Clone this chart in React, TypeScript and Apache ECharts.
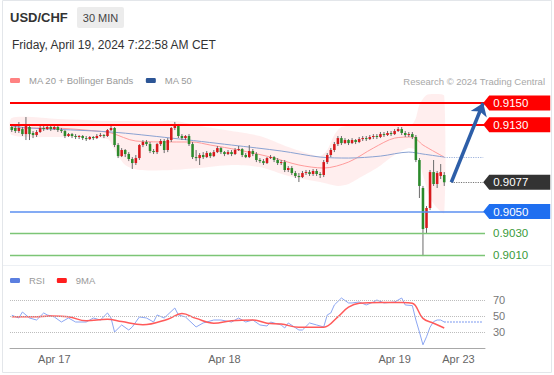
import React, { useEffect, useRef } from 'react';
import * as echarts from 'echarts';

const FONT = '"Liberation Sans", Arial, Helvetica, sans-serif';

// ---- time slots (30 min), category axis ----
const SLOT_COUNT = 134;
const slots: string[] = Array.from({ length: SLOT_COUNT }, (_, i) => String(i));
const dateLabelIndex = [12, 60, 108, 126];
const dateLabelText = ['Apr 17', 'Apr 18', 'Apr 19', 'Apr 23'];

// ---- candles: [open, close, low, high] ----
const candles: number[][] = [
  [0.91279, 0.91251, 0.91233, 0.91297],
  [0.9127, 0.91242, 0.91224, 0.91288],
  [0.91242, 0.9127, 0.91224, 0.91325],
  [0.9126, 0.91214, 0.91196, 0.91279],
  [0.91214, 0.91297, 0.91159, 0.91371],
  [0.91279, 0.91214, 0.91159, 0.91307],
  [0.91224, 0.91205, 0.91177, 0.91242],
  [0.91205, 0.91233, 0.91187, 0.91251],
  [0.91233, 0.9127, 0.91224, 0.91288],
  [0.9127, 0.9126, 0.91242, 0.91288],
  [0.9126, 0.91279, 0.91251, 0.91297],
  [0.91279, 0.9126, 0.91242, 0.91297],
  [0.9126, 0.91279, 0.91251, 0.91297],
  [0.91279, 0.91251, 0.91233, 0.91288],
  [0.91251, 0.91242, 0.91224, 0.9127],
  [0.91242, 0.91196, 0.91177, 0.91251],
  [0.91196, 0.91214, 0.91187, 0.91224],
  [0.91214, 0.91196, 0.91177, 0.91224],
  [0.91196, 0.91187, 0.91168, 0.91214],
  [0.91187, 0.91196, 0.91168, 0.91205],
  [0.91196, 0.91177, 0.91159, 0.91205],
  [0.91177, 0.91168, 0.9115, 0.91196],
  [0.91168, 0.91187, 0.91159, 0.91196],
  [0.91187, 0.91177, 0.91159, 0.91196],
  [0.91177, 0.91196, 0.91168, 0.91214],
  [0.91196, 0.91205, 0.91187, 0.91224],
  [0.91205, 0.91196, 0.91177, 0.91214],
  [0.91196, 0.91251, 0.91187, 0.9126],
  [0.91251, 0.9127, 0.91242, 0.91307],
  [0.9127, 0.91113, 0.91094, 0.91279],
  [0.91113, 0.91011, 0.90993, 0.91131],
  [0.91011, 0.91067, 0.91002, 0.91085],
  [0.91067, 0.9103, 0.91002, 0.91076],
  [0.9103, 0.90984, 0.90965, 0.91048],
  [0.90984, 0.90947, 0.90892, 0.91002],
  [0.90947, 0.90993, 0.90929, 0.91021],
  [0.90993, 0.91113, 0.90975, 0.91122],
  [0.91113, 0.91141, 0.91094, 0.91159],
  [0.91141, 0.91122, 0.91104, 0.91159],
  [0.91122, 0.91058, 0.91039, 0.91141],
  [0.91058, 0.91048, 0.9103, 0.91076],
  [0.91048, 0.91122, 0.9103, 0.91131],
  [0.91122, 0.9115, 0.91104, 0.91168],
  [0.9115, 0.91067, 0.91039, 0.91168],
  [0.91067, 0.91159, 0.91048, 0.91177],
  [0.91159, 0.9127, 0.91141, 0.91279],
  [0.9127, 0.91297, 0.91251, 0.91325],
  [0.91288, 0.91196, 0.91177, 0.91307],
  [0.91196, 0.91177, 0.91159, 0.91214],
  [0.91177, 0.91196, 0.91159, 0.91205],
  [0.91196, 0.91122, 0.91104, 0.91214],
  [0.91122, 0.91002, 0.90984, 0.91141],
  [0.91002, 0.90993, 0.90965, 0.91067],
  [0.90993, 0.91021, 0.90929, 0.91039],
  [0.91021, 0.91002, 0.90984, 0.91048],
  [0.91002, 0.91039, 0.90993, 0.91058],
  [0.91039, 0.91011, 0.90993, 0.91048],
  [0.91011, 0.91048, 0.91002, 0.91067],
  [0.91048, 0.91085, 0.91039, 0.91104],
  [0.91085, 0.91048, 0.9103, 0.91094],
  [0.91048, 0.9103, 0.91011, 0.91058],
  [0.9103, 0.91048, 0.91021, 0.91067],
  [0.91048, 0.9103, 0.91011, 0.91067],
  [0.9103, 0.91067, 0.91021, 0.91085],
  [0.91067, 0.91076, 0.91058, 0.91104],
  [0.91076, 0.91021, 0.91002, 0.91085],
  [0.91021, 0.91002, 0.90993, 0.91039],
  [0.91002, 0.91058, 0.90993, 0.91113],
  [0.91058, 0.9103, 0.91011, 0.91076],
  [0.9103, 0.90975, 0.90956, 0.91048],
  [0.90975, 0.90965, 0.90947, 0.90993],
  [0.90965, 0.90947, 0.90929, 0.90984],
  [0.90947, 0.90993, 0.90938, 0.91002],
  [0.90993, 0.91002, 0.90984, 0.91021],
  [0.91002, 0.90975, 0.90956, 0.91011],
  [0.90975, 0.90947, 0.90929, 0.90993],
  [0.90947, 0.90956, 0.90929, 0.90975],
  [0.90956, 0.90883, 0.90864, 0.90975],
  [0.90883, 0.90901, 0.90864, 0.90919],
  [0.90901, 0.90855, 0.90837, 0.90919],
  [0.90855, 0.90828, 0.90809, 0.90874],
  [0.90828, 0.90818, 0.90772, 0.90855],
  [0.90818, 0.90855, 0.90809, 0.90874],
  [0.90855, 0.90864, 0.90837, 0.90883],
  [0.90864, 0.90846, 0.90828, 0.90883],
  [0.90846, 0.90874, 0.90828, 0.90892],
  [0.90874, 0.90846, 0.90828, 0.90892],
  [0.90846, 0.90837, 0.90809, 0.90864],
  [0.90837, 0.90956, 0.90818, 0.90975],
  [0.90956, 0.91021, 0.90938, 0.91039],
  [0.91021, 0.91067, 0.91002, 0.91085],
  [0.91067, 0.91122, 0.91048, 0.91141],
  [0.91122, 0.91177, 0.91104, 0.91196],
  [0.91177, 0.91131, 0.91113, 0.91196],
  [0.91131, 0.91159, 0.91122, 0.91177],
  [0.91159, 0.91131, 0.91113, 0.91168],
  [0.91131, 0.91159, 0.91122, 0.91177],
  [0.91159, 0.91141, 0.91122, 0.91168],
  [0.91141, 0.91168, 0.91131, 0.91187],
  [0.91168, 0.91177, 0.9115, 0.91196],
  [0.91177, 0.91168, 0.9115, 0.91196],
  [0.91168, 0.91187, 0.91159, 0.91205],
  [0.91187, 0.91196, 0.91168, 0.91214],
  [0.91196, 0.91187, 0.91168, 0.91214],
  [0.91187, 0.91214, 0.91177, 0.91233],
  [0.91214, 0.91205, 0.91187, 0.91233],
  [0.91205, 0.91224, 0.91196, 0.91242],
  [0.91224, 0.91214, 0.91196, 0.91242],
  [0.91214, 0.91242, 0.91205, 0.9126],
  [0.91242, 0.9126, 0.91233, 0.91279],
  [0.9126, 0.91224, 0.91205, 0.91279],
  [0.91224, 0.91205, 0.91187, 0.91242],
  [0.91205, 0.91214, 0.91187, 0.91233],
  [0.91214, 0.91187, 0.91168, 0.91233],
  [0.91187, 0.90975, 0.90956, 0.91205],
  [0.90975, 0.90736, 0.90625, 0.90993],
  [0.90717, 0.90339, 0.9009, 0.90736],
  [0.90349, 0.90533, 0.90302, 0.90551],
  [0.90533, 0.90864, 0.90514, 0.90883],
  [0.90864, 0.90754, 0.90736, 0.90975],
  [0.90754, 0.90855, 0.90717, 0.90874],
  [0.90828, 0.90864, 0.908, 0.90938],
  [0.90837, 0.9077, 0.90736, 0.90864],
];

// ---- indicators: [slot, value] ----
const bollUpper: number[][] = [
  [0, 0.91362], [13, 0.91353], [27, 0.91334], [32, 0.91334], [40, 0.91325], [46, 0.91334],
  [53, 0.91288], [62, 0.91242], [70, 0.91196], [78, 0.91094], [84, 0.9103], [87, 0.91011],
  [89, 0.91067], [91, 0.91205], [93, 0.91279], [100, 0.91297], [106, 0.91297], [110, 0.91307],
  [113, 0.91307], [114, 0.91362], [115, 0.91482], [117, 0.91574], [120, 0.91583], [122, 0.91565],
];
const bollLower: number[][] = [
  [0, 0.91205], [13, 0.91187], [27, 0.91168], [29, 0.91067], [32, 0.90929], [36, 0.90883],
  [45, 0.90883], [53, 0.90901], [62, 0.90929], [70, 0.9091], [78, 0.90828], [87, 0.90772],
  [92, 0.90736], [95, 0.90754], [98, 0.90809], [103, 0.90901], [108, 0.91021], [112, 0.91085],
  [114, 0.91067], [116, 0.90837], [118, 0.90625], [120, 0.90533], [122, 0.90487],
];
const ma20: number[][] = [
  [0, 0.9127], [11, 0.9127], [24, 0.91242], [28, 0.91224], [35, 0.9115], [45, 0.91141],
  [51, 0.91141], [56, 0.91113], [64, 0.91067], [73, 0.91002], [81, 0.90929], [88, 0.90901],
  [95, 0.90956], [102, 0.91085], [108, 0.91177], [113, 0.91187], [116, 0.91113], [122, 0.91002],
];
const ma50: number[][] = [
  [0, 0.91288], [5, 0.9127], [28, 0.91233], [45, 0.91177], [62, 0.91113], [76, 0.91058],
  [87, 0.91002], [95, 0.90993], [104, 0.91011], [112, 0.91048], [116, 0.9103], [122, 0.91002],
];
const rsi: number[][] = [
  [0, 51], [2, 47.5], [3, 55], [5, 47.5], [7, 45], [9, 53.8], [10, 51.3], [12, 48.8], [14, 42.5],
  [16, 47.5], [18, 42.5], [21, 42.5], [23, 47.5], [25, 45], [27, 53.8], [28, 47.5], [29, 30],
  [31, 38.8], [33, 32.5], [34, 36.3], [36, 48.8], [38, 47.5], [40, 42.5], [41, 51.3], [43, 47.5],
  [46, 60], [47, 51.3], [49, 48.8], [52, 36.3], [54, 41.3], [57, 45], [59, 45], [62, 42.5],
  [64, 47.5], [66, 42.5], [68, 45], [70, 38.8], [72, 37.5], [73, 42.5], [76, 38.8], [77, 35],
  [78, 41.3], [81, 32.5], [82, 32.5], [84, 41.3], [86, 38.8], [88, 36.3], [89, 51.3], [90, 53.8],
  [91, 63.8], [93, 72.5], [95, 66.3], [96, 66.3], [98, 67.5], [100, 63.8], [102, 67.5], [103, 70],
  [105, 66.3], [108, 67.5], [110, 72.5], [111, 63.8], [113, 63], [114, 45], [115, 30], [116, 14],
  [117, 24], [118, 36], [119, 43], [120, 45], [121, 45], [122, 42.5],
];
const rsiMa9: number[][] = [
  [0, 49], [6, 49], [11, 50], [16, 49], [21, 44], [27, 46], [31, 43], [37, 39], [44, 46], [48, 53],
  [52, 47], [57, 41], [62, 44], [68, 45], [72, 41], [76, 40], [81, 36], [85, 36], [88, 36], [92, 49],
  [95, 61], [98, 66], [104, 67], [110, 67], [113, 66], [116, 47], [119, 41], [122, 35],
];
const rsiLevels = [30, 50, 70];

// ---- key levels ----
const resistances = [0.915, 0.913];
const pivots = [0.905];
const supports = [0.903, 0.901];
const lastPrice = 0.9077;
const lastRsi = 42.5;
const projectionFrom = [124, 0.9077];
const projectionTo = [133, 0.915];

const RED = '#d7191c';
const GREEN = '#2b8a2b';
const TAG_PATH = 'path://M0,7.5L6,0L67,0L67,15L6,15Z';

function tag(v: number, color: string) {
  return {
    coord: [SLOT_COUNT - 1, v],
    symbol: TAG_PATH,
    symbolSize: [67, 15],
    symbolOffset: [33.5, 0],
    itemStyle: { color },
    label: {
      show: true,
      position: 'insideLeft',
      distance: 10,
      formatter: v.toFixed(4),
      color: '#fff',
      fontSize: 11.5,
      fontFamily: FONT,
    },
  };
}

function hLine(v: number, color: string, width: number, text?: string, textColor?: string) {
  return {
    yAxis: v,
    lineStyle: { color, width, type: 'solid' },
    label: text
      ? { show: true, position: 'end', distance: 8, formatter: text, color: textColor, fontSize: 11.5, fontFamily: FONT }
      : { show: false },
  };
}

export default function App() {
  const ref = useRef<HTMLDivElement>(null);
  useEffect(() => {
    const chart = echarts.init(ref.current!, null, { renderer: 'svg' });
    const lastSlot = candles.length - 1;
    const option: any = {
      animation: false,
      backgroundColor: '#ffffff',
      textStyle: { fontFamily: FONT },
      grid: [
        { left: 10, width: 475, top: 90, height: 171.5 },
        { left: 10, width: 475, top: 284, height: 64 },
      ],
      xAxis: [
        { type: 'category', gridIndex: 0, data: slots, boundaryGap: true, show: false },
        {
          type: 'category', gridIndex: 1, data: slots, boundaryGap: true,
          axisLine: { show: true, lineStyle: { color: '#a8a8a8', width: 1 } },
          axisTick: { show: false },
          splitLine: { show: false },
          axisLabel: {
            interval: (idx: number) => dateLabelIndex.includes(idx),
            formatter: (_: string, idx: number) => {
              const k = dateLabelIndex.indexOf(idx);
              return k >= 0 ? dateLabelText[k] : '';
            },
            color: '#666', fontSize: 11, margin: 5, fontFamily: FONT,
          },
        },
      ],
      yAxis: [
        { type: 'value', gridIndex: 0, min: 0.9004, max: 0.9162, show: false, splitLine: { show: false } },
        { type: 'value', gridIndex: 1, min: 10, max: 90, show: false, splitLine: { show: false } },
      ],
      legend: [
        {
          left: 10, top: 75.5, padding: 0, itemGap: 12, itemWidth: 10, itemHeight: 5, icon: 'roundRect',
          selectedMode: false,
          textStyle: { color: '#999', fontSize: 9.5, fontFamily: FONT, padding: [0, 0, 0, 4] },
          data: [
            { name: 'MA 20 + Bollinger Bands', itemStyle: { color: '#ff8282', borderWidth: 0 } },
            { name: 'MA 50', itemStyle: { color: '#2c5596', borderWidth: 0 } },
          ],
        },
        {
          left: 10, top: 275.5, padding: 0, itemGap: 12, itemWidth: 10, itemHeight: 5, icon: 'roundRect',
          selectedMode: false,
          textStyle: { color: '#999', fontSize: 9.5, fontFamily: FONT, padding: [0, 0, 0, 4] },
          data: [
            { name: 'RSI', itemStyle: { color: '#5b7fe0', borderWidth: 0 } },
            { name: '9MA', itemStyle: { color: '#ff1f1f', borderWidth: 0 } },
          ],
        },
      ],
      graphic: [
        { type: 'rect', silent: true, z: -10, shape: { x: 2.5, y: 0.5, width: 549, height: 372 }, style: { fill: 'none', stroke: '#e3e6ea', lineWidth: 1 } },
        { type: 'line', silent: true, shape: { x1: 3, y1: 265.5, x2: 551, y2: 265.5 }, style: { stroke: '#edf0f4', lineWidth: 1 } },
        { type: 'text', x: 10, y: 17.5, style: { text: 'USD/CHF', fontSize: 13, fontWeight: 'bold', fontFamily: FONT, fill: '#333', verticalAlign: 'middle' } },
        { type: 'rect', shape: { x: 77, y: 7, width: 47, height: 21, r: 2 }, style: { fill: '#ececec' } },
        { type: 'text', x: 100.5, y: 17.5, style: { text: '30 MIN', fontSize: 11, fontFamily: FONT, fill: '#444', align: 'center', verticalAlign: 'middle' } },
        { type: 'text', x: 12, y: 45, style: { text: 'Friday, April 19, 2024 7:22:58 AM CET', fontSize: 12, fontFamily: FONT, fill: '#333', verticalAlign: 'middle' } },
        { type: 'text', x: 545, y: 81, style: { text: 'Research © 2024 Trading Central', fontSize: 9.5, fontFamily: FONT, fill: '#a8a8a8', align: 'right', verticalAlign: 'middle' } },
      ],
      series: [
        {
          name: 'bands', type: 'custom', xAxisIndex: 0, yAxisIndex: 0, silent: true, z: 1,
          data: [[0, 0.91]],
          encode: { x: 0, y: 1 },
          renderItem: (_params: any, api: any) => {
            const pts = bollUpper.map((p) => api.coord(p)).concat(
              bollLower.slice().reverse().map((p) => api.coord(p))
            );
            return { type: 'polygon', shape: { points: pts, smooth: 0.25 }, style: { fill: 'rgba(255,60,60,0.085)' } };
          },
        },
        {
          name: 'MA 20 + Bollinger Bands', type: 'line', xAxisIndex: 0, yAxisIndex: 0, z: 3,
          data: ma20, symbol: 'none', smooth: 0.3, color: '#ff8a8a',
          lineStyle: { color: '#ff9b9b', width: 1 },
          markLine: {
            silent: true, symbol: ['none', 'none'], animation: false, precision: 5,
            data: [
              ...resistances.map((v) => hLine(v, '#ff0000', 2)),
              ...pivots.map((v) => hLine(v, '#5b8ff0', 1.5)),
              ...supports.map((v) => hLine(v, '#7cc576', 1.3, v.toFixed(4), '#3a9a3a')),
            ],
          },
          markPoint: {
            silent: true, animation: false,
            data: [
              ...resistances.map((v) => tag(v, '#ff0000')),
              tag(lastPrice, '#333333'),
              ...pivots.map((v) => tag(v, '#1f6ff0')),
            ],
          },
        },
        {
          name: 'MA 50', type: 'line', xAxisIndex: 0, yAxisIndex: 0, z: 3,
          data: ma50, symbol: 'none', smooth: 0.3, color: '#2c5596',
          lineStyle: { color: '#8aa2d2', width: 1 },
          markLine: {
            silent: true, animation: false, symbol: ['none', 'none'], precision: 5,
            label: { show: false },
            data: [
              [
                { coord: [lastSlot + 2, lastPrice], lineStyle: { color: '#777', width: 1.2, type: 'dotted' } },
                { coord: [SLOT_COUNT - 1, lastPrice] },
              ],
              [
                { coord: [lastSlot, ma50[ma50.length - 1][1]], lineStyle: { color: '#9fb3dc', width: 1.2, type: 'dotted' } },
                { coord: [SLOT_COUNT - 1, ma50[ma50.length - 1][1]] },
              ],
            ],
          },
        },
        {
          name: 'candles', type: 'custom', xAxisIndex: 0, yAxisIndex: 0, z: 4,
          data: candles.map((c, i) => [i, c[0], c[1], c[2], c[3]]),
          encode: { x: 0, y: [1, 2, 3, 4] },
          renderItem: (_params: any, api: any) => {
            const i = api.value(0);
            const o = api.value(1), c = api.value(2), l = api.value(3), h = api.value(4);
            const po = api.coord([i, o]);
            const pc = api.coord([i, c]);
            const pl = api.coord([i, l]);
            const ph = api.coord([i, h]);
            const w = api.size([1, 0])[0] * 0.72;
            const top = Math.min(po[1], pc[1]);
            const hh = Math.max(1, Math.abs(po[1] - pc[1]));
            return {
              type: 'group',
              children: [
                { type: 'line', shape: { x1: ph[0], y1: ph[1], x2: pl[0], y2: pl[1] }, style: { stroke: '#6b6b6b', lineWidth: 1 } },
                { type: 'rect', shape: { x: po[0] - w / 2, y: top, width: w, height: hh }, style: { fill: c >= o ? RED : GREEN } },
              ],
            };
          },
          markLine: {
            silent: true, animation: false, symbol: ['none', 'none'], precision: 5,
            label: { show: false },
            data: [
              [
                { coord: projectionFrom, symbol: 'none', lineStyle: { color: '#2d5ea8', width: 3.5, type: 'solid' } },
                { coord: projectionTo, symbol: 'arrow', symbolSize: [13, 12] },
              ],
            ],
          },
        },
        {
          name: 'RSI', type: 'line', xAxisIndex: 1, yAxisIndex: 1, z: 3,
          data: rsi, symbol: 'none', color: '#5b7fe0',
          lineStyle: { color: '#8ca6f2', width: 1 },
          markLine: {
            silent: true, animation: false, symbol: ['none', 'none'],
            data: [
              ...rsiLevels.map((v) => ({
                yAxis: v,
                lineStyle: { color: '#bdbdbd', width: 1, type: 'dotted' },
                label: { show: true, position: 'end', distance: 8, formatter: String(v), color: '#777', fontSize: 11, fontFamily: FONT },
              })),
              [
                { coord: [lastSlot, lastRsi], lineStyle: { color: '#8ca6f2', width: 1.5, type: 'dotted' }, label: { show: false } },
                { coord: [SLOT_COUNT - 1, lastRsi] },
              ],
            ],
          },
        },
        {
          name: '9MA', type: 'line', xAxisIndex: 1, yAxisIndex: 1, z: 4,
          data: rsiMa9, symbol: 'none', smooth: 0.4, color: '#ff1f1f',
          lineStyle: { color: '#ff5a5a', width: 1.5 },
        },
      ],
    };
    chart.setOption(option);
    return () => chart.dispose();
  }, []);
  return (
    <div
      ref={ref}
      style={{ position: 'fixed', left: 0, top: 0, width: 554, height: 375, background: '#fff' }}
    />
  );
}
